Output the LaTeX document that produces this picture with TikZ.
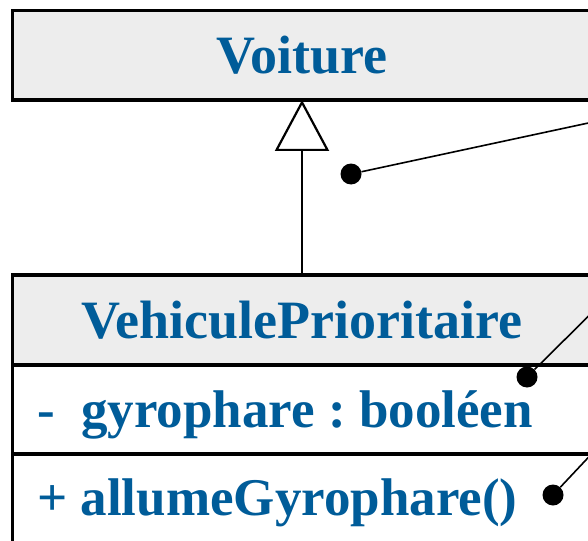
\documentclass[tikz,border=0pt]{standalone}
\usepackage{fontspec}
\setmainfont{Liberation Serif}
\usetikzlibrary{arrows.meta,positioning}
\definecolor{Ink}{HTML}{005C99}
\definecolor{Head}{HTML}{EDEDED}
\tikzset{
  classhead/.style={draw=black,fill=Head,line width=3.8pt,minimum width=579pt,minimum height=90pt,outer sep=0pt,inner sep=0pt,text=Ink,font=\fontsize{54}{60}\selectfont\bfseries},
  section/.style={draw=black,fill=white,line width=3.8pt,minimum width=579pt,minimum height=89pt,outer sep=0pt,inner sep=0pt},
  member/.style={anchor=base west,inner sep=0pt,text=Ink,font=\fontsize{53}{60}\selectfont\bfseries},
  notedot/.style={circle,fill=black,inner sep=0pt,minimum size=21pt},
  notelink/.style={draw=black,line width=1.6pt},
  inherit/.style={-{Triangle[open,length=51pt,width=54pt]},draw=black,line width=2.2pt}
}

\begin{document}
\begin{tikzpicture}[x=1pt,y=-1pt]
      \useasboundingbox (0,0) rectangle (588,540);
      \clip (0,0) rectangle (588,540);
      % classes
      \node[classhead,minimum height=89.5pt] (voiture) at (302,55.25) {Voiture};
      \node[classhead] (vphead) at (302,320) {VehiculePrioritaire};
      \node[section,below=0pt of vphead] (vpattr) {};
      \node[section,below=0pt of vpattr] (vpmeth) {};
      \node[member] (gyro) at (37,427) {-\hspace{.5em}gyrophare\hspace{.25em}:\hspace{.25em}booléen};
      \node[member] (allume) at (37,515) {+ allumeGyrophare()};
      \draw[inherit] (vphead.north) -- (voiture.south);
      % note anchors
      \node[notedot] (dota) at (351,174) {};
      \node[notedot] (dotb) at (527,377) {};
      \node[notedot] (dotc) at (553,495) {};
      \coordinate (notea) at (600,120.5);
      \coordinate (noteb) at (600,304.7);
      \coordinate (notec) at (600,445);
      \draw[notelink] (dota) -- (notea);
      \draw[notelink] (dotb) -- (noteb);
      \draw[notelink] (dotc) -- (notec);
    \end{tikzpicture}
\end{document}
